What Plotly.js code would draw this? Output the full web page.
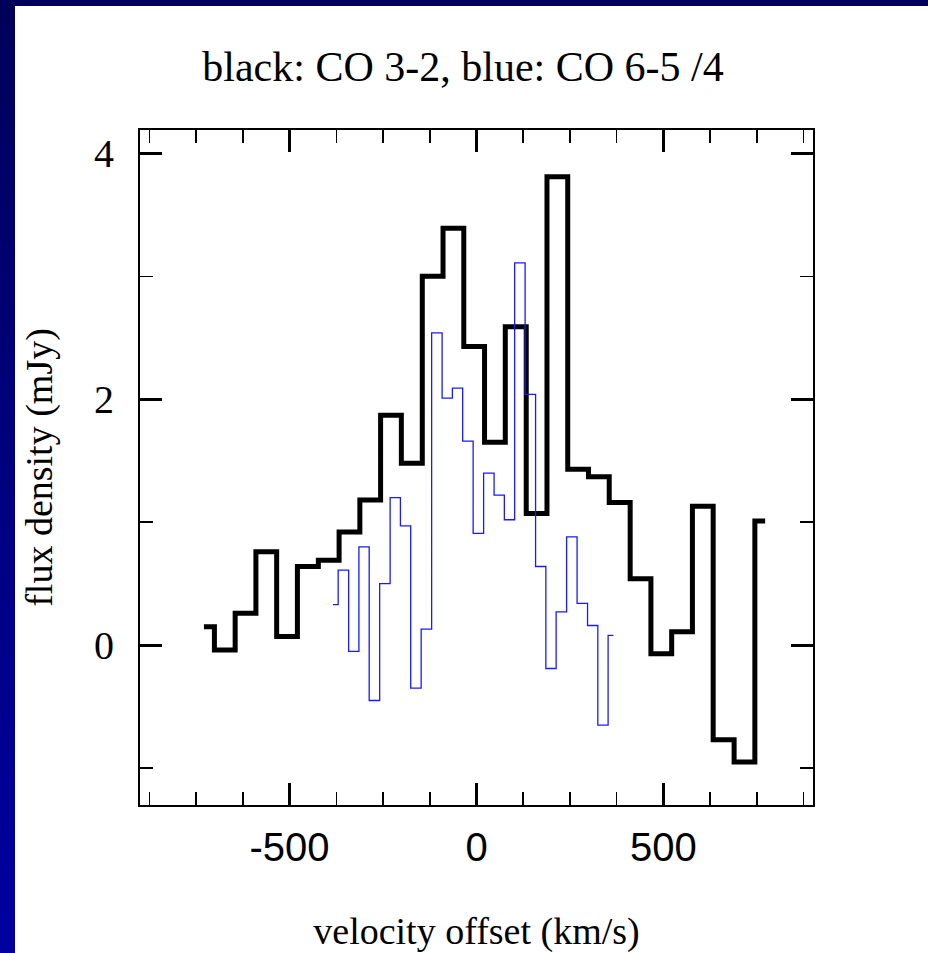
<!DOCTYPE html>
<html>
<head>
<meta charset="utf-8">
<script src="https://cdn.plot.ly/plotly-3.0.1.min.js"></script>
<style>
  html, body { margin: 0; padding: 0; background: #ffffff; width: 928px; height: 953px; overflow: hidden; }
  #leftbar { position: absolute; left: 0; top: 0; width: 15px; height: 953px;
             background: linear-gradient(to bottom, #00005a 0%, #000078 40%, #0000a0 100%); }
  #topbar { position: absolute; left: 0; top: 0; width: 928px; height: 6px; background: #00005a; }
  #chart { position: absolute; left: 0; top: 0; width: 928px; height: 953px; }
</style>
</head>
<body>
<div id="leftbar"></div>
<div id="topbar"></div>
<div id="chart"></div>
<script>
// CO 3-2 spectrum (black): velocity bin centres (km/s) and flux density (mJy)
const co32_v = [-729, -673, -618, -562, -507, -451, -395, -340, -284, -229, -173, -117, -62, -6,
                49, 105, 161, 216, 272, 327, 383, 439, 494, 550, 605, 661, 717, 772];
const co32_f = [0.15, -0.04, 0.26, 0.76, 0.07, 0.64, 0.69, 0.92, 1.18, 1.87, 1.48, 3.00, 3.39, 2.43,
                1.65, 2.59, 1.07, 3.81, 1.43, 1.37, 1.16, 0.54, -0.07, 0.11, 1.13, -0.77, -0.95, 1.01];

// CO 6-5 spectrum divided by 4 (blue)
const co65_v = [-384, -356, -328, -301, -273, -245, -217, -190, -162, -134, -106, -78, -51, -23,
                5, 33, 61, 88, 116, 144, 172, 199, 227, 255, 283, 311, 338, 366];
const co65_f = [0.33, 0.61, -0.05, 0.80, -0.45, 0.50, 1.20, 0.97, -0.35, 0.13, 2.54, 2.01, 2.09, 1.66,
                0.91, 1.40, 1.22, 1.02, 3.11, 2.04, 0.64, -0.19, 0.27, 0.88, 0.34, 0.16, -0.65, 0.08];

const titleText = "black: CO 3-2, blue: CO 6-5 /4";
const xTitle = "velocity offset (km/s)";
const yTitle = "flux density (mJy)";
const xTickVals = [-500, 0, 500];
const xTickText = ["-500", "0", "500"];
const yTickVals = [0, 2, 4];
const yTickText = ["0", "2", "4"];

const serif = "Liberation Serif";
const sans = "Liberation Sans";

const traces = [
  { x: co32_v, y: co32_f, type: "scatter", mode: "lines",
    line: { shape: "hvh", color: "#000000", width: 5 }, hoverinfo: "skip", showlegend: false },
  { x: co65_v, y: co65_f, type: "scatter", mode: "lines",
    line: { shape: "hvh", color: "#1a1aff", width: 1.3 }, hoverinfo: "skip", showlegend: false }
];

const layout = {
  width: 928, height: 953,
  paper_bgcolor: "rgba(0,0,0,0)",
  plot_bgcolor: "#ffffff",
  margin: { l: 140, r: 115, t: 130, b: 148, autoexpand: false },
  showlegend: false,
  title: { text: titleText, font: { family: serif, size: 42, color: "#000" },
           x: 463 / 928, xanchor: "center", xref: "container",
           y: 1 - 66 / 953, yanchor: "middle", yref: "container" },
  xaxis: {
    range: [-900, 900], autorange: false, zeroline: false, showgrid: false,
    showline: true, linecolor: "#000", linewidth: 2, mirror: "ticks",
    ticks: "inside", ticklen: 22, tickwidth: 3, tickcolor: "#000",
    tickmode: "array", tickvals: xTickVals, ticktext: xTickText,
    tickfont: { family: sans, size: 40, color: "#000" },
    ticklabelstandoff: 6,
    minor: { dtick: 125, tick0: 0, ticks: "inside", ticklen: 13, tickwidth: 1.5, tickcolor: "#000", showgrid: false },
    title: { text: xTitle, font: { family: serif, size: 38, color: "#000" }, standoff: 50 }
  },
  yaxis: {
    range: [-1.3, 4.19], autorange: false, zeroline: false, showgrid: false,
    showline: true, linecolor: "#000", linewidth: 2, mirror: "ticks",
    ticks: "inside", ticklen: 22, tickwidth: 3, tickcolor: "#000",
    tickmode: "array", tickvals: yTickVals, ticktext: yTickText,
    tickfont: { family: serif, size: 40, color: "#000" },
    ticklabelstandoff: 16,
    minor: { dtick: 1, tick0: 1, ticks: "inside", ticklen: 13, tickwidth: 1.5, tickcolor: "#000", showgrid: false },
    title: { text: yTitle, font: { family: serif, size: 38, color: "#000" }, standoff: 30 }
  }
};

Plotly.newPlot("chart", traces, layout, { staticPlot: true, displayModeBar: false });
</script>
</body>
</html>
